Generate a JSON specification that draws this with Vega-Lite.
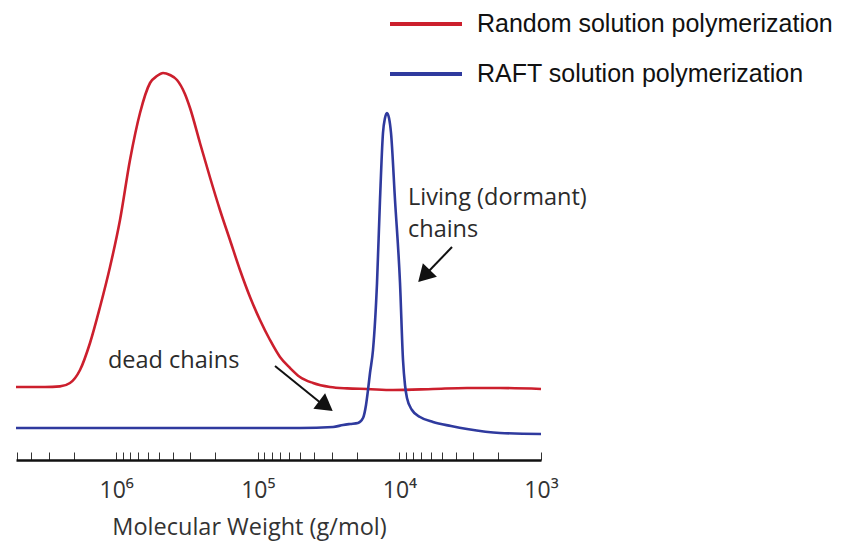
{
  "$schema": "https://vega.github.io/schema/vega-lite/v6.json",
  "width": 525,
  "height": 400,
  "autosize": {"type": "none"},
  "padding": {"left": 16, "top": 60, "right": 305, "bottom": 84},
  "background": "white",
  "config": {"view": {"stroke": null}},
  "datasets": {
    "curves": [
      {"series": "Random solution polymerization", "mw": 5100000, "signal": 18.25},
      {"series": "Random solution polymerization", "mw": 4060000, "signal": 18.25},
      {"series": "Random solution polymerization", "mw": 3183000, "signal": 18.25},
      {"series": "Random solution polymerization", "mw": 2494000, "signal": 18.4},
      {"series": "Random solution polymerization", "mw": 2120000, "signal": 19.25},
      {"series": "Random solution polymerization", "mw": 1801000, "signal": 22.5},
      {"series": "Random solution polymerization", "mw": 1531000, "signal": 29.25},
      {"series": "Random solution polymerization", "mw": 1301000, "signal": 38.25},
      {"series": "Random solution polymerization", "mw": 1106000, "signal": 48.25},
      {"series": "Random solution polymerization", "mw": 940000, "signal": 60},
      {"series": "Random solution polymerization", "mw": 799000, "signal": 75},
      {"series": "Random solution polymerization", "mw": 679000, "signal": 86.75},
      {"series": "Random solution polymerization", "mw": 577000, "signal": 94.25},
      {"series": "Random solution polymerization", "mw": 515000, "signal": 96},
      {"series": "Random solution polymerization", "mw": 467000, "signal": 96.75},
      {"series": "Random solution polymerization", "mw": 417000, "signal": 96.25},
      {"series": "Random solution polymerization", "mw": 372000, "signal": 95},
      {"series": "Random solution polymerization", "mw": 327000, "signal": 91.5},
      {"series": "Random solution polymerization", "mw": 301000, "signal": 88},
      {"series": "Random solution polymerization", "mw": 256000, "signal": 79.25},
      {"series": "Random solution polymerization", "mw": 218000, "signal": 70.75},
      {"series": "Random solution polymerization", "mw": 185000, "signal": 62.5},
      {"series": "Random solution polymerization", "mw": 157200, "signal": 55},
      {"series": "Random solution polymerization", "mw": 133600, "signal": 47.5},
      {"series": "Random solution polymerization", "mw": 113500, "signal": 40.75},
      {"series": "Random solution polymerization", "mw": 96500, "signal": 35},
      {"series": "Random solution polymerization", "mw": 82000, "signal": 30},
      {"series": "Random solution polymerization", "mw": 69700, "signal": 25.75},
      {"series": "Random solution polymerization", "mw": 59200, "signal": 23},
      {"series": "Random solution polymerization", "mw": 50400, "signal": 20.75},
      {"series": "Random solution polymerization", "mw": 40700, "signal": 19.25},
      {"series": "Random solution polymerization", "mw": 30900, "signal": 18.25},
      {"series": "Random solution polymerization", "mw": 23400, "signal": 17.9},
      {"series": "Random solution polymerization", "mw": 16930, "signal": 17.75},
      {"series": "Random solution polymerization", "mw": 11100, "signal": 17.5},
      {"series": "Random solution polymerization", "mw": 5790, "signal": 17.75},
      {"series": "Random solution polymerization", "mw": 3330, "signal": 18},
      {"series": "Random solution polymerization", "mw": 1947, "signal": 18},
      {"series": "Random solution polymerization", "mw": 1000, "signal": 17.75},
      {"series": "RAFT solution polymerization", "mw": 5100000, "signal": 8},
      {"series": "RAFT solution polymerization", "mw": 1301000, "signal": 8},
      {"series": "RAFT solution polymerization", "mw": 256000, "signal": 8},
      {"series": "RAFT solution polymerization", "mw": 50400, "signal": 8},
      {"series": "RAFT solution polymerization", "mw": 29400, "signal": 8.25},
      {"series": "RAFT solution polymerization", "mw": 25000, "signal": 8.75},
      {"series": "RAFT solution polymerization", "mw": 22300, "signal": 9},
      {"series": "RAFT solution polymerization", "mw": 19600, "signal": 9.25},
      {"series": "RAFT solution polymerization", "mw": 18070, "signal": 10.5},
      {"series": "RAFT solution polymerization", "mw": 17210, "signal": 13.75},
      {"series": "RAFT solution polymerization", "mw": 16660, "signal": 17.5},
      {"series": "RAFT solution polymerization", "mw": 16130, "signal": 21.75},
      {"series": "RAFT solution polymerization", "mw": 15360, "signal": 27.5},
      {"series": "RAFT solution polymerization", "mw": 14390, "signal": 44.25},
      {"series": "RAFT solution polymerization", "mw": 13710, "signal": 65},
      {"series": "RAFT solution polymerization", "mw": 13060, "signal": 81.75},
      {"series": "RAFT solution polymerization", "mw": 12640, "signal": 85.5},
      {"series": "RAFT solution polymerization", "mw": 12240, "signal": 86.75},
      {"series": "RAFT solution polymerization", "mw": 11840, "signal": 85.5},
      {"series": "RAFT solution polymerization", "mw": 11460, "signal": 81.75},
      {"series": "RAFT solution polymerization", "mw": 10740, "signal": 65},
      {"series": "RAFT solution polymerization", "mw": 9900, "signal": 44.25},
      {"series": "RAFT solution polymerization", "mw": 9430, "signal": 25},
      {"series": "RAFT solution polymerization", "mw": 9130, "signal": 18.75},
      {"series": "RAFT solution polymerization", "mw": 8840, "signal": 15.5},
      {"series": "RAFT solution polymerization", "mw": 8150, "signal": 12.5},
      {"series": "RAFT solution polymerization", "mw": 7150, "signal": 10.75},
      {"series": "RAFT solution polymerization", "mw": 5790, "signal": 9.5},
      {"series": "RAFT solution polymerization", "mw": 4320, "signal": 8.5},
      {"series": "RAFT solution polymerization", "mw": 3330, "signal": 7.75},
      {"series": "RAFT solution polymerization", "mw": 1947, "signal": 6.75},
      {"series": "RAFT solution polymerization", "mw": 1000, "signal": 6.5}
    ],
    "arrows": [
      {"mw": 75600, "signal": 23.5, "mw2": 35200, "signal2": 14, "head_mw": 33000, "head_signal": 13.5, "heading": 127},
      {"mw": 4250, "signal": 53.25, "mw2": 6280, "signal2": 47, "head_mw": 6700, "head_signal": 46, "heading": 224}
    ],
    "notes": [
      {"label": "dead chains", "mw": 1143000, "signal": 23},
      {"label": "Living (dormant)\nchains", "mw": 8700, "signal": 63.75}
    ]
  },
  "layer": [
    {
      "data": {"name": "curves"},
      "mark": {"type": "line", "interpolate": "monotone", "strokeWidth": 2.6},
      "encoding": {
        "x": {
          "field": "mw",
          "type": "quantitative",
          "scale": {"type": "log", "domain": [1000, 5100000], "reverse": true, "nice": false, "zero": false},
          "axis": {
            "values": [5000000, 4000000, 3000000, 2000000, 1000000, 900000, 800000, 700000, 600000, 500000, 400000, 300000, 200000, 100000, 90000, 80000, 70000, 60000, 50000, 40000, 30000, 20000, 10000, 9000, 8000, 7000, 6000, 5000, 4000, 3000, 2000, 1000],
            "labelExpr": "abs(log(datum.value)/LN10 - round(log(datum.value)/LN10)) < 1e-6 ? '10' + ['⁰','¹','²','³','⁴','⁵','⁶','⁷'][round(log(datum.value)/LN10)] : ''",
            "grid": false,
            "domainColor": "#111111",
            "domainWidth": 2.6,
            "tickColor": "#333333",
            "tickWidth": 1,
            "tickSize": -8,
            "labelFont": "Open Sans",
            "labelFontSize": 23,
            "labelColor": "#333333",
            "labelPadding": 38,
            "labelBaseline": "middle",
            "labelOverlap": false,
            "labelFlush": false,
            "title": "Molecular Weight (g/mol)",
            "titleFont": "Open Sans",
            "titleFontSize": 23.5,
            "titleFontWeight": "normal",
            "titleColor": "#333333",
            "titleX": 233,
            "titleY": 67,
            "titleAlign": "center",
            "titleBaseline": "middle",
            "encode": {
              "ticks": {
                "update": {
                  "y": {"signal": "abs(log(datum.value)/LN10 - round(log(datum.value)/LN10)) < 1e-6 ? 8 : 1"}
                }
              }
            }
          }
        },
        "y": {
          "field": "signal",
          "type": "quantitative",
          "scale": {"domain": [0, 100], "nice": false, "zero": false},
          "axis": null
        },
        "color": {
          "field": "series",
          "type": "nominal",
          "sort": ["Random solution polymerization", "RAFT solution polymerization"],
          "scale": {"domain": ["Random solution polymerization", "RAFT solution polymerization"], "range": ["#cc1f2d", "#2f3a9e"]},
          "legend": {
            "title": null,
            "orient": "none",
            "legendX": 372,
            "legendY": -51,
            "padding": 0,
            "symbolType": "stroke",
            "symbolSize": 5184,
            "symbolStrokeWidth": 4,
            "clipHeight": 30,
            "rowPadding": 20,
            "labelOffset": 13,
            "labelFont": "Liberation Sans",
            "labelFontSize": 25,
            "labelColor": "#111111",
            "labelLimit": 420,
            "encode": {
              "symbols": {
                "update": {
                  "stroke": {"signal": "datum.value === 'Random solution polymerization' ? '#b8141d' : '#45609a'"}
                }
              }
            }
          }
        }
      }
    },
    {
      "data": {"name": "arrows"},
      "mark": {"type": "rule", "color": "#111111", "strokeWidth": 2},
      "encoding": {
        "x": {"field": "mw", "type": "quantitative"},
        "x2": {"field": "mw2"},
        "y": {"field": "signal", "type": "quantitative"},
        "y2": {"field": "signal2"}
      }
    },
    {
      "data": {"name": "arrows"},
      "mark": {"type": "point", "shape": "triangle-up", "filled": true, "color": "#111111", "opacity": 1, "size": 380},
      "encoding": {
        "x": {"field": "head_mw", "type": "quantitative"},
        "y": {"field": "head_signal", "type": "quantitative"},
        "angle": {"field": "heading", "type": "quantitative", "scale": null}
      }
    },
    {
      "data": {"name": "notes"},
      "mark": {"type": "text", "align": "left", "baseline": "alphabetic", "lineBreak": "\n", "lineHeight": 32, "font": "Open Sans", "fontSize": 23.5, "color": "#2b2b2b"},
      "encoding": {
        "x": {"field": "mw", "type": "quantitative"},
        "y": {"field": "signal", "type": "quantitative"},
        "text": {"field": "label"}
      }
    }
  ]
}
